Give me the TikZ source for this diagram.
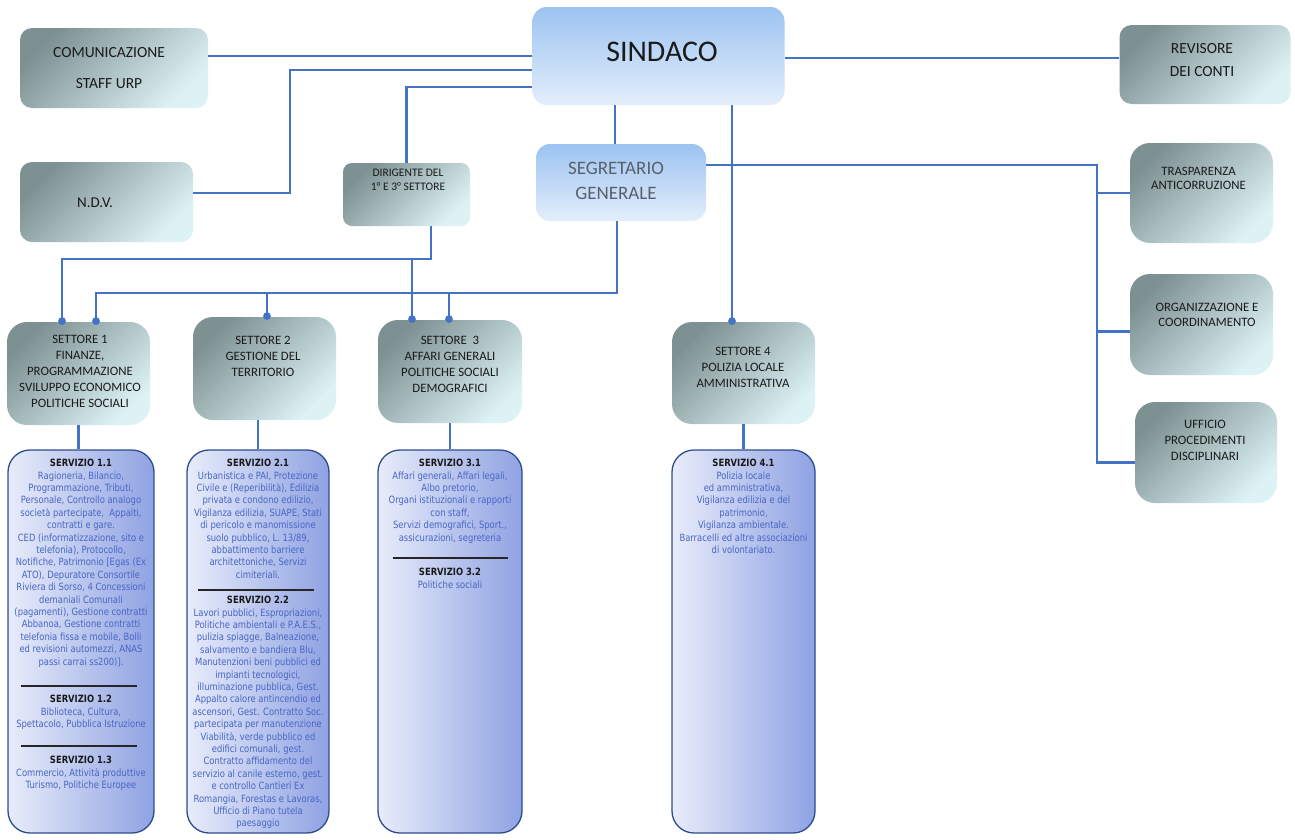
\documentclass[tikz,border=0pt]{standalone}
\usepackage{fontspec}
\setmainfont{Carlito}
\newfontfamily\svfont{DejaVu Sans}[FakeStretch=0.84]
\usetikzlibrary{arrows.meta}
\definecolor{linkblue}{HTML}{4472C4}
\definecolor{gtop}{HTML}{7D9192}
\definecolor{gbot}{HTML}{DDF2F5}
\definecolor{btop}{HTML}{9CC3F1}
\definecolor{bbot}{HTML}{E3EEFB}
\definecolor{svleft}{HTML}{E8ECFA}
\definecolor{svright}{HTML}{8FA2E3}
\definecolor{svborder}{HTML}{2F4C8E}
\definecolor{svblue}{HTML}{4866C4}
\definecolor{boxtext}{HTML}{1A1A1A}
\definecolor{segtext}{HTML}{5A6068}
\newcommand\svh[1]{{\bfseries\fontsize{10}{12.4}\selectfont\color{black!90}#1}}
\begin{document}
\begin{tikzpicture}[x=1pt,y=-1pt,
  graybox/.style={rounded corners=12pt, top color=gtop, bottom color=gbot, shading angle=45, inner sep=0pt},
  setbox/.style={graybox, rounded corners=20pt, minimum width=143pt, minimum height=103pt},
  bluebox/.style={rounded corners=14pt, top color=btop, bottom color=bbot, inner sep=0pt},
  svbox/.style={rounded corners=22pt, left color=svleft, right color=svright, draw=svborder, line width=1.3pt, inner sep=0pt, minimum height=383pt},
  btext/.style={text=boxtext, align=center, inner sep=0pt},
  settext/.style={btext, font=\fontsize{12.8}{16}\selectfont},
  svtext/.style={font=\svfont\fontsize{10}{12.4}\selectfont, text=svblue, align=center, inner sep=0pt, anchor=north},
  conn/.style={draw=linkblue, line width=2.8pt},
  dotconn/.style={conn, -{Circle[length=7.5pt,width=7.5pt]}},
  sepline/.style={draw=black!85, line width=1.3pt}]
\fill[white] (0,0) rectangle (1295,839);
\useasboundingbox (0,0) rectangle (1295,839);

% ---------- boxes ----------
\node[bluebox, minimum width=252pt, minimum height=98pt] (sind) at (658.5,56) {};
\node[bluebox, minimum width=170pt, minimum height=77pt] (segr) at (621,182.5) {};
\node[graybox, minimum width=188pt, minimum height=80pt] (comu) at (114,68) {};
\node[graybox, minimum width=173pt, minimum height=80pt] (ndv) at (106.5,202) {};
\node[graybox, rounded corners=9pt, minimum width=127pt, minimum height=63pt] (dir) at (406.5,194.5) {};
\node[graybox, minimum width=171pt, minimum height=79pt] (revi) at (1205,64.5) {};
\node[graybox, rounded corners=20pt, minimum width=143pt, minimum height=100pt] (tras) at (1201.5,193) {};
\node[graybox, rounded corners=20pt, minimum width=143pt, minimum height=101pt] (orga) at (1201.5,324.5) {};
\node[graybox, rounded corners=20pt, minimum width=142pt, minimum height=101pt] (uffi) at (1206,452.5) {};
\node[setbox] (set1) at (78.5,373.5) {};
\node[setbox] (set2) at (264.5,368.5) {};
\node[setbox, minimum width=144pt] (set3) at (450,371.5) {};
\node[setbox, minimum height=102pt] (set4) at (743.5,373) {};
\node[svbox, minimum width=146pt] (sv1) at (81,641.5) {};
\node[svbox, minimum width=142pt] (sv2) at (258,641.5) {};
\node[svbox, minimum width=144pt] (sv3) at (450,641.5) {};
\node[svbox, minimum width=143pt] (sv4) at (743.5,641.5) {};

% ---------- connectors ----------
\coordinate (sw2) at ([yshift=-14pt]sind.west);
\coordinate (sw3) at ([yshift=-31pt]sind.west);
\coordinate (ne) at ([yshift=9pt]ndv.east);
\coordinate (nbend) at (290,0);
\coordinate (gin) at ([xshift=-6pt]segr.north);
\coordinate (re) at ([yshift=6.5pt]revi.west);
\coordinate (ge) at ([yshift=17.5pt]segr.east);
\coordinate (rb) at (1097,0);
\coordinate (oe) at ([yshift=-7pt]orga.west);
\coordinate (ue) at ([yshift=-10pt]uffi.west);
\coordinate (dout) at ([xshift=24.5pt]dir.south);
\coordinate (gout) at ([xshift=-4pt]segr.south);
\coordinate (dbus) at (0,259);
\coordinate (gbus) at (0,293);
\coordinate (d1) at ([xshift=-16.5pt,yshift=-3pt]set1.north);
\coordinate (g1) at ([xshift=17.5pt,yshift=-3pt]set1.north);
\coordinate (g2) at ([xshift=2.5pt,yshift=-3pt]set2.north);
\coordinate (d3) at ([xshift=-38pt,yshift=-3pt]set3.north);
\coordinate (g3) at ([xshift=-1pt,yshift=-3pt]set3.north);
\coordinate (s4) at ([xshift=-11.5pt,yshift=-3pt]set4.north);

\draw[conn] (sind.west) -- (comu.east |- sind.west);
\draw[conn] (sw2) -| (nbend |- ne) -- (ne);
\draw[conn] (sw3) -| (dir.north);
\draw[conn] (gin |- sind.south) -- (gin);
\draw[conn] (re -| sind.east) -- (re);
\draw[conn] (ge) -| (rb |- ue) -- (ue);
\draw[conn] (rb |- tras.west) -- (tras.west);
\draw[conn] (rb |- oe) -- (oe);
\draw[dotconn] (s4 |- sind.south) -- (s4);
\draw[dotconn] (dout) |- (d1 |- dbus) -- (d1);
\draw[dotconn] (d3 |- dbus) -- (d3);
\draw[dotconn] (gout) |- (g1 |- gbus) -- (g1);
\draw[dotconn] (g2 |- gbus) -- (g2);
\draw[dotconn] (g3 |- gbus) -- (g3);
\draw[conn] (set1.south) -- (set1.south |- sv1.north);
\draw[conn] (sv2.north) -- (sv2.north |- set2.south);
\draw[conn] (sv3.north) -- (sv3.north |- set3.south);
\draw[conn] (set4.south) -- (set4.south |- sv4.north);

% ---------- texts of upper boxes ----------
\node[btext, font=\fontsize{30}{32}\selectfont] (sindt) at (662,52) {SINDACO};
\node[btext, text=segtext, font=\fontsize{19}{25.5}\selectfont] (segrt) at (616,181) {SEGRETARIO\\GENERALE};
\node[btext, font=\fontsize{15.5}{31}\selectfont] (comut) at (109,68) {COMUNICAZIONE\\STAFF URP};
\node[btext, font=\fontsize{15}{18}\selectfont] (ndvt) at (95,203) {N.D.V.};
\node[btext, font=\fontsize{11.5}{14}\selectfont] (dirt) at (408,180) {DIRIGENTE DEL\\1° E 3° SETTORE};
\node[btext, font=\fontsize{15.5}{23}\selectfont] (revit) at (1202,60.5) {REVISORE\\DEI CONTI};
\node[btext, font=\fontsize{12.8}{14}\selectfont] (trast) at (1198.5,178.5) {TRASPARENZA\\ANTICORRUZIONE};
\node[btext, font=\fontsize{12.8}{15}\selectfont] (orgat) at (1207,314.5) {ORGANIZZAZIONE E\\COORDINAMENTO};
\node[btext, font=\fontsize{12.8}{16}\selectfont] (uffit) at (1205,440.5) {UFFICIO\\PROCEDIMENTI\\DISCIPLINARI};

\node[settext] (set1t) at (80,371.5) {SETTORE 1\\FINANZE,\\PROGRAMMAZIONE\\SVILUPPO ECONOMICO\\POLITICHE SOCIALI};
\node[settext] (set2t) at (263,356) {SETTORE 2\\GESTIONE DEL\\TERRITORIO};
\node[settext] (set3t) at (450,364) {SETTORE\ \ 3\\AFFARI GENERALI\\POLITICHE SOCIALI\\DEMOGRAFICI};
\node[settext] (set4t) at (743,367.5) {SETTORE 4\\POLIZIA LOCALE\\AMMINISTRATIVA};

% ---------- servizi ----------
\node[svtext] (s11) at (81,459) {\svh{SERVIZIO 1.1}\\Ragioneria, Bilancio,\\Programmazione, Tributi,\\Personale, Controllo analogo\\società partecipate,\ \ Appalti,\\contratti e gare.\\CED (informatizzazione, sito e\\telefonia), Protocollo,\\Notifiche, Patrimonio [Egas (Ex\\ATO), Depuratore Consortile\\Riviera di Sorso, 4 Concessioni\\demaniali Comunali\\(pagamenti), Gestione contratti\\Abbanoa, Gestione contratti\\telefonia fissa e mobile, Bolli\\ed revisioni automezzi, ANAS\\passi carrai ss200)].};
\draw[sepline] (21,686) -- (137,686);
\node[svtext] (s12) at (81,695) {\svh{SERVIZIO 1.2}\\Biblioteca, Cultura,\\Spettacolo, Pubblica Istruzione};
\draw[sepline] (21,746) -- (137,746);
\node[svtext] (s13) at (81,756) {\svh{SERVIZIO 1.3}\\Commercio, Attività produttive\\Turismo, Politiche Europee};

\node[svtext] (s21) at (258,459) {\svh{SERVIZIO 2.1}\\Urbanistica e PAI, Protezione\\Civile e (Reperibilità), Edilizia\\privata e condono edilizio,\\Vigilanza edilizia, SUAPE, Stati\\di pericolo e manomissione\\suolo pubblico, L. 13/89,\\abbattimento barriere\\architettoniche, Servizi\\cimiteriali.};
\draw[sepline] (198,590) -- (314,590);
\node[svtext] (s22) at (258,596) {\svh{SERVIZIO 2.2}\\Lavori pubblici, Espropriazioni,\\Politiche ambientali e P.A.E.S.,\\pulizia spiagge, Balneazione,\\salvamento e bandiera Blu,\\Manutenzioni beni pubblici ed\\impianti tecnologici,\\illuminazione pubblica, Gest.\\Appalto calore antincendio ed\\ascensori, Gest. Contratto Soc.\\partecipata per manutenzione\\Viabilità, verde pubblico ed\\edifici comunali, gest.\\Contratto affidamento del\\servizio al canile esterno, gest.\\e controllo Cantieri Ex\\Romangia, Forestas e Lavoras,\\Ufficio di Piano tutela\\paesaggio};

\node[svtext] (s31) at (450,459) {\svh{SERVIZIO 3.1}\\Affari generali, Affari legali,\\Albo pretorio,\\Organi istituzionali e rapporti\\con staff,\\Servizi demografici, Sport.,\\assicurazioni, segreteria};
\draw[sepline] (393,558) -- (508,558);
\node[svtext] (s32) at (450,568) {\svh{SERVIZIO 3.2}\\Politiche sociali};

\node[svtext] (s41) at (743.5,459) {\svh{SERVIZIO 4.1}\\Polizia locale\\ed amministrativa,\\Vigilanza edilizia e del\\patrimonio,\\Vigilanza ambientale.\\Barracelli ed altre associazioni\\di volontariato.};
\end{tikzpicture}
\end{document}
